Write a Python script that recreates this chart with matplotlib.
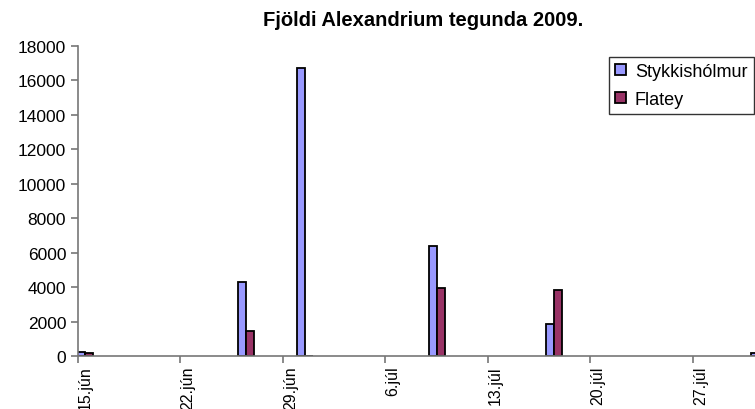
import numpy as np
import matplotlib
matplotlib.use('Agg')
import matplotlib.pyplot as plt
import matplotlib.dates as mdates

####################
# Data
dates       = ['2009-06-15', '2009-06-26', '2009-06-30', '2009-07-09', '2009-07-17', '2009-07-31']
stykkisholmur = [250, 4300, 16700, 6400, 1850, 150]
flatey        = [150, 1450, 0, 3950, 3850, 0]
tick_dates  = ['2009-06-15', '2009-06-22', '2009-06-29', '2009-07-06', '2009-07-13', '2009-07-20', '2009-07-27']
tick_labels = ['15.jún', '22.jún', '29.jún', '6.júl', '13.júl', '20.júl', '27.júl']
yticks      = [0, 2000, 4000, 6000, 8000, 10000, 12000, 14000, 16000, 18000]

####################
# Plot
plt.rcParams['font.family'] = ['Liberation Sans', 'DejaVu Sans']

fig = plt.figure(figsize=(7.55, 4.10), dpi=100)
ax = fig.add_axes([78/755, 53/410, 677/755, 310/410])

x = mdates.date2num(np.array(dates, dtype='datetime64[D]')) + 0.5
w = 0.55
ax.bar(x - w/2, stykkisholmur, width=w, color='#9999FF', edgecolor='black', linewidth=1.3, label='Stykkishólmur')
ax.bar(x + w/2, flatey, width=w, color='#993366', edgecolor='black', linewidth=1.3, label='Flatey')

x0 = mdates.date2num(np.datetime64('2009-06-15'))
ax.set_xlim(x0, x0 + 46.25)
ax.set_ylim(0, 18000)
ax.set_yticks(yticks)
ax.set_yticklabels([str(v) for v in yticks], fontsize=12.5)
ax.set_xticks(mdates.date2num(np.array(tick_dates, dtype='datetime64[D]')))
# labels sit just right of their ticks, as in the original
ax.set_xticklabels(tick_labels, rotation=90, fontsize=11.5, ha='left')

for s in ['top', 'right']:
    ax.spines[s].set_visible(False)
for s in ['left', 'bottom']:
    ax.spines[s].set_color('#777777')
    ax.spines[s].set_linewidth(1.2)
ax.tick_params(direction='out', length=5, color='#777777', width=1.2)
ax.tick_params(axis='x', pad=2)

ax.set_title('Fjöldi Alexandrium tegunda 2009.', fontsize=14.5, fontweight='bold', x=0.51, y=1.04)

leg = ax.legend(loc='upper left', bbox_to_anchor=(0.784, 0.966), fontsize=13, frameon=True,
                fancybox=False, borderaxespad=0, handlelength=0.6, handleheight=0.6,
                handletextpad=0.5, labelspacing=0.6, borderpad=0.35)
leg.get_frame().set_edgecolor('black')
leg.get_frame().set_linewidth(1.0)

fig.savefig('out.png', dpi=100)
